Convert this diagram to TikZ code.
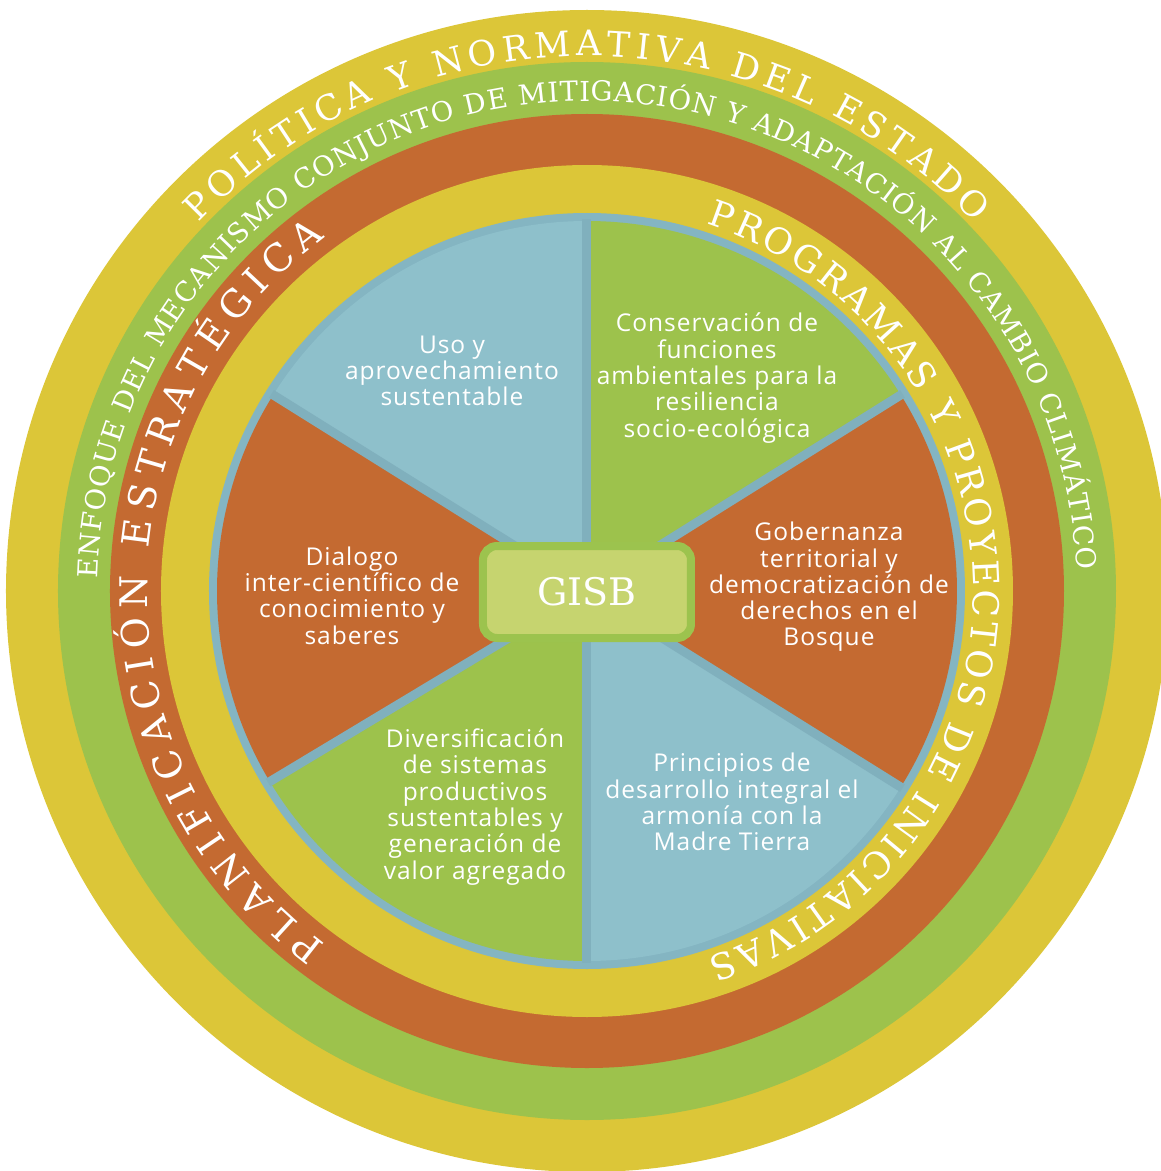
\documentclass[tikz,border=0pt]{standalone}
\usepackage{fontspec}
\setmainfont{Open Sans}[LetterSpace=4]
\newfontfamily\ringfont{DejaVu Serif}
\newfontfamily\gisbfont{DejaVu Serif}
\usetikzlibrary{decorations.text}
\definecolor{ylw}{HTML}{DCC638}
\definecolor{grn}{HTML}{9DC24C}
\definecolor{org}{HTML}{C46A31}
\definecolor{blu}{HTML}{8EC0CB}
\definecolor{bord}{HTML}{84B5C2}
\definecolor{divc}{HTML}{80B0BD}
\definecolor{gfill}{HTML}{C6D46F}
\definecolor{gbord}{HTML}{9CC34E}
\begin{document}
\begin{tikzpicture}[x=1pt,y=1pt,
  pietext/.style={text=white, font=\fontsize{24.5}{26.3}\selectfont, align=center, inner sep=0pt},
  gisbbox/.style={draw=gbord, line width=8pt, fill=gfill, rounded corners=14pt,
    minimum width=208pt, minimum height=92pt, inner sep=0pt, text=white,
    font=\gisbfont\fontsize{38}{40}\selectfont},
  divider/.style={draw=divc, line width=9pt}]
\useasboundingbox (-587,-580) rectangle (574,591);
% rings
\fill[ylw] (0,0) circle[radius=581];
\fill[grn] (0,0) circle[radius=529];
\fill[org] (0,0) circle[radius=477];
\fill[ylw] (0,0) circle[radius=426];
\fill[bord] (0,0) circle[radius=378];
% sectors
\fill[blu] (0,0) -- (90:370) arc[start angle=90, end angle=148, radius=370] -- cycle;
\fill[org] (0,0) -- (148:370) arc[start angle=148, end angle=211, radius=370] -- cycle;
\fill[grn] (0,0) -- (211:370) arc[start angle=211, end angle=270, radius=370] -- cycle;
\fill[blu] (0,0) -- (270:370) arc[start angle=270, end angle=328, radius=370] -- cycle;
\fill[org] (0,0) -- (328:370) arc[start angle=328, end angle=392, radius=370] -- cycle;
\fill[grn] (0,0) -- (32:370) arc[start angle=32, end angle=90, radius=370] -- cycle;
% dividers
\coordinate (c) at (0,0);
\coordinate (d1) at (90:372);
\coordinate (d2) at (148:372);
\coordinate (d3) at (211:372);
\coordinate (d4) at (270:372);
\coordinate (d5) at (328:372);
\coordinate (d6) at (32:372);
\foreach \d in {d1,d2,d3,d4,d5,d6} \draw[divider] (c) -- (\d);
% ring texts
\path[decorate, decoration={text along path, text color=white, text align={fit to path},
  text={|\ringfont\fontsize{35}{35}\selectfont|POLÍTICA Y NORMATIVA DEL ESTADO}}]
  (136.5:535) arc[start angle=136.5, end angle=43.5, radius=535];
\path[decorate, decoration={text along path, text color=white, text align={fit to path},
  text={|\ringfont\fontsize{27.5}{27.5}\selectfont|ENFOQUE DEL MECANISMO CONJUNTO DE MITIGACIÓN Y ADAPTACIÓN AL CAMBIO CLIMÁTICO}}]
  (178.5:490) arc[start angle=178.5, end angle=2.5, radius=490];
\path[decorate, decoration={text along path, text color=white, text align={fit to path},
  text={|\ringfont\fontsize{38}{38}\selectfont|PLANIFICACIÓN ESTRATÉGICA}}]
  (233.5:440) arc[start angle=233.5, end angle=126.5, radius=440];
\path[decorate, decoration={text along path, text color=white, text align={fit to path},
  text={|\ringfont\fontsize{36}{36}\selectfont|PROGRAMAS Y PROYECTOS DE INICIATIVAS}}]
  (72:386) arc[start angle=72, end angle=-71.8, radius=386];
% pie texts
\node[pietext] (uso) at (-135,220) {Uso y\\aprovechamiento\\sustentable};
\node[pietext] (cons) at (130,213) {Conservación de\\funciones\\ambientales para la\\resiliencia\\socio-ecológica};
\node[pietext] (gob) at (242,4) {Gobernanza\\territorial y\\democratización de\\derechos en el\\Bosque};
\node[pietext] (dia) at (-235,-4.5) {Dialogo\\inter-científico de\\conocimiento y\\saberes};
\node[pietext] (div) at (-112,-216) {Diversificación\\de sistemas\\productivos\\sustentables y\\generación de\\valor agregado};
\node[pietext] (pri) at (145,-211) {Principios de\\desarrollo integral el\\armonía con la\\Madre Tierra};
% center
\node[gisbbox] (g) at (0,-1) {GISB};
\end{tikzpicture}
\end{document}
